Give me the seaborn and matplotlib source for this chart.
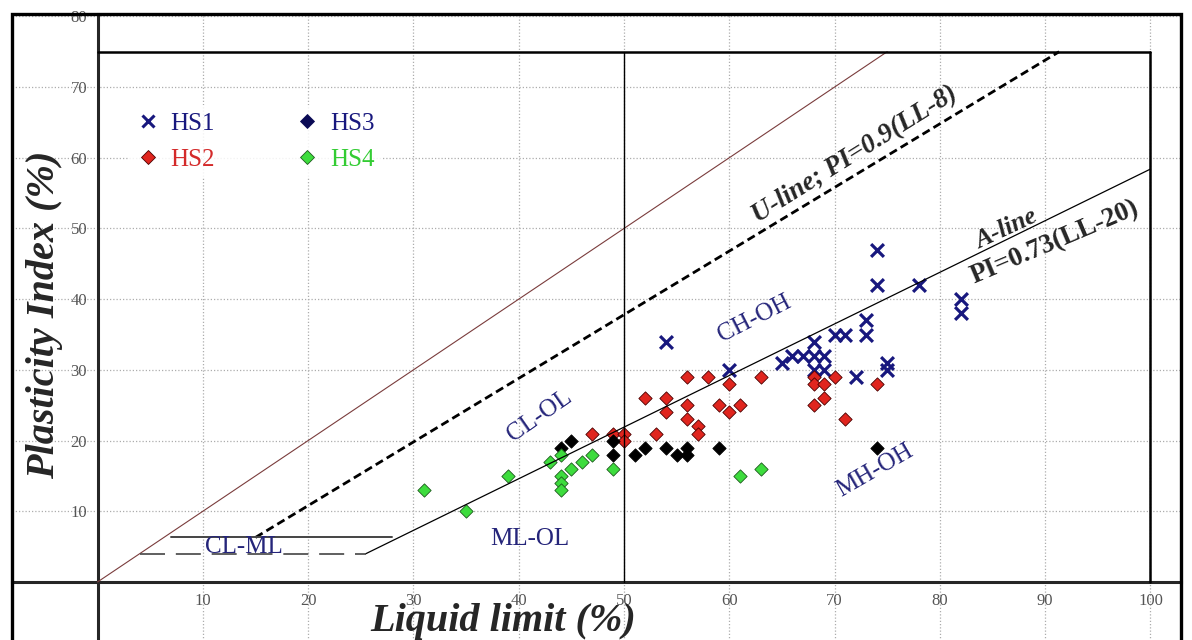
import numpy as np
import pandas as pd
import matplotlib
matplotlib.use("Agg")
import matplotlib.pyplot as plt
from matplotlib.lines import Line2D
from matplotlib.patches import Rectangle
import seaborn as sns

# ---------------- data ----------------
hs1_ll = [54, 60, 65, 66, 67, 68, 69, 68, 68, 69, 70, 71, 72, 73, 73, 74, 74, 75, 75, 78, 82, 82]
hs1_pi = [34, 30, 31, 32, 32, 32, 32, 34, 30, 30, 35, 35, 29, 35, 37, 42, 47, 31, 30, 42, 40, 38]

hs2_ll = [47, 49, 50, 50, 52, 53, 54, 54, 56, 56, 56, 57, 57, 58, 59, 60, 60, 61, 63, 68, 68, 68, 69, 69, 70, 71, 74]
hs2_pi = [21, 21, 21, 20, 26, 21, 26, 24, 29, 25, 23, 22, 21, 29, 25, 28, 24, 25, 29, 29, 28, 25, 28, 26, 29, 23, 28]

hs3_ll = [44, 45, 49, 49, 51, 52, 54, 55, 56, 56, 59, 74]
hs3_pi = [19, 20, 20, 18, 18, 19, 19, 18, 19, 18, 19, 19]

hs4_ll = [31, 35, 39, 43, 44, 44, 44, 44, 45, 46, 47, 49, 61, 63]
hs4_pi = [13, 10, 15, 17, 18, 15, 14, 13, 16, 17, 18, 16, 15, 16]

series_names = ["HS1", "HS2", "HS3", "HS4"]
x_ticks = [10, 20, 30, 40, 50, 60, 70, 80, 90, 100]
y_ticks = [10, 20, 30, 40, 50, 60, 70, 80]

# reference lines (Casagrande chart)
line_ll = [0, 75]                 # PI = LL
u_ll = [15, 91.33]                # U-line
a_ll = [25.48, 100]               # A-line

df = pd.concat([
    pd.DataFrame({"LL": hs1_ll, "PI": hs1_pi, "group": "HS1"}),
    pd.DataFrame({"LL": hs2_ll, "PI": hs2_pi, "group": "HS2"}),
    pd.DataFrame({"LL": hs3_ll, "PI": hs3_pi, "group": "HS3"}),
    pd.DataFrame({"LL": hs4_ll, "PI": hs4_pi, "group": "HS4"}),
], ignore_index=True)

# ---------------- style ----------------
sns.set_style("white")
plt.rcParams["font.family"] = ["Liberation Serif", "DejaVu Serif"]

NAVY = "#18187e"
RED = "#e0251e"
GREEN = "#3ddc3d"
TXT_NAVY = "#25257a"

fig = plt.figure(figsize=(11.92, 6.4), dpi=100)
ax = fig.add_axes([12 / 1192, -20 / 640, 1169 / 1192, 646.5 / 640])
ax.set_xlim(-8.12, 102.9)
ax.set_ylim(-11.03, 80.4)

# grid
ax.set_axisbelow(True)
ax.grid(True, linestyle=(0, (1, 1.6)), color="#adadad", linewidth=0.9)

# spines through the origin
for s in ["top", "right"]:
    ax.spines[s].set_visible(False)
ax.spines["left"].set_position(("data", 0))
ax.spines["bottom"].set_position(("data", 0))
ax.spines["left"].set_linewidth(2.2)
ax.spines["bottom"].set_linewidth(2.2)

ax.set_xticks(x_ticks)
ax.set_yticks(y_ticks)
ax.tick_params(axis="x", direction="inout", length=12, width=1.5, pad=2,
               labelsize=12, colors="#222222")
ax.tick_params(axis="y", direction="inout", length=14, width=1.5, pad=0.5,
               labelsize=12, colors="#222222")
for lab in ax.get_xticklabels() + ax.get_yticklabels():
    lab.set_color("#555555")

# outer frame
ax.add_patch(Rectangle((0, 0), 1, 1, transform=ax.transAxes, fill=False,
                       lw=2.4, edgecolor="black", clip_on=False, zorder=10))

# ---------------- scatter ----------------
sns.scatterplot(data=df[df.group == "HS1"], x="LL", y="PI", marker="x",
                color=NAVY, s=85, linewidth=2.3, ax=ax, zorder=3, legend=False)
sns.scatterplot(data=df[df.group == "HS2"], x="LL", y="PI", marker="D",
                color=RED, edgecolor="#4a0000", s=46, linewidth=0.6, ax=ax, zorder=3, legend=False)
sns.scatterplot(data=df[df.group == "HS3"], x="LL", y="PI", marker="D",
                color="black", edgecolor="black", s=46, linewidth=0.6, ax=ax, zorder=3, legend=False)
sns.scatterplot(data=df[df.group == "HS4"], x="LL", y="PI", marker="D",
                color=GREEN, edgecolor="#1e5a1e", s=46, linewidth=0.6, ax=ax, zorder=3, legend=False)

# ---------------- reference lines ----------------
ll = np.array(line_ll, dtype=float)
ax.plot(ll, ll, color="#7a3c3c", lw=0.8, zorder=4)

u = np.array(u_ll)
ax.plot(u, 0.9 * (u - 8), color="black", lw=2.0, ls=(0, (3, 1.6)), zorder=4)

a = np.array(a_ll)
ax.plot(a, 0.73 * (a - 20), color="black", lw=0.9, zorder=4)

ax.plot([0, 100], [75, 75], color="black", lw=1.8, zorder=4)
ax.plot([100, 100], [0, 75], color="black", lw=1.8, zorder=4)
ax.plot([50, 50], [0, 75], color="black", lw=1.0, zorder=4)

ax.plot([7, 28], [6.3, 6.3], color="#444444", lw=1.4, zorder=4)
ax.plot([4, 25.48], [4, 4], color="#444444", lw=1.2, ls=(0, (15, 6.5)), zorder=4)

# ---------------- zone labels ----------------
kw = dict(ha="center", va="center", color=TXT_NAVY, fontsize=18, rotation_mode="anchor", zorder=5)
ax.text(13.9, 4.95, "CL-ML", **kw)
ax.text(41.1, 6.1, "ML-OL", **kw)
ax.text(42.0, 23.5, "CL-OL", rotation=35, **kw)
ax.text(62.4, 37.3, "CH-OH", rotation=27, **kw)
ax.text(73.8, 15.8, "MH-OH", rotation=30, **kw)

ax.text(71.95, 60.5, "U-line; PI=0.9(LL-8)", ha="center", va="center", rotation=32,
        rotation_mode="anchor", fontsize=19.5, fontweight="bold", fontstyle="italic", zorder=5)
ax.text(86.3, 49.9, "A-line", ha="center", va="center", rotation=25,
        rotation_mode="anchor", fontsize=18.5, fontweight="bold", fontstyle="italic", zorder=5)
ax.text(90.9, 48.0, "PI=0.73(LL-20)", ha="center", va="center", rotation=23,
        rotation_mode="anchor", fontsize=19.5, fontweight="bold", zorder=5)

# ---------------- axis labels ----------------
ax.set_xlabel("")
ax.set_ylabel("")
fig.text(503 / 1192, 1 - 622 / 640, "Liquid limit (%)", ha="center", va="center",
         fontsize=29, fontweight="bold", fontstyle="italic")
fig.text(45 / 1192, 1 - 315 / 640, "Plasticity Index (%)", ha="center", va="center",
         rotation=90, fontsize=29, fontweight="bold", fontstyle="italic")

# ---------------- legend ----------------
handles = [
    Line2D([], [], ls="", marker="x", color=NAVY, ms=9, mew=2.2),
    Line2D([], [], ls="", marker="D", color=RED, mec="#4a0000", mew=0.6, ms=7),
    Line2D([], [], ls="", marker="D", color="#0b0b55", mec="#0b0b55", mew=0.6, ms=7),
    Line2D([], [], ls="", marker="D", color=GREEN, mec="#1e5a1e", mew=0.6, ms=7),
]
leg = ax.legend(handles, series_names, ncol=2, loc="upper left",
                bbox_to_anchor=(1.7, 69.2), bbox_transform=ax.transData,
                frameon=True, facecolor="white", edgecolor="none", framealpha=0.85,
                fontsize=18, handlelength=1.0, handletextpad=0.4, columnspacing=3.2,
                labelspacing=0.52, borderpad=0.3)
for t, c in zip(leg.get_texts(), [NAVY, "#d42a2a", NAVY, "#33cc33"]):
    t.set_color(c)

fig.savefig("out.png", dpi=100)
